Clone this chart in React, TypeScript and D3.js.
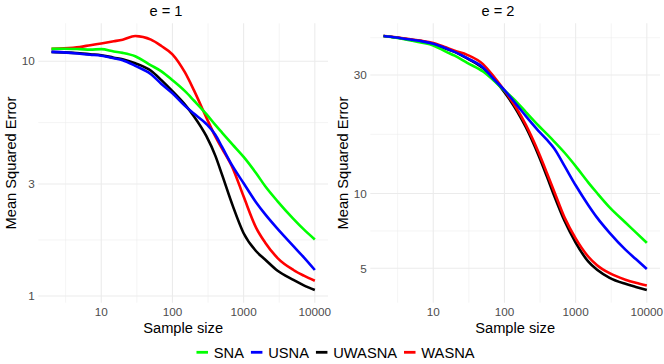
import React from 'react'
import * as d3 from 'd3'

/* whole figure is two ggplot-like panels side by side with one legend underneath */
const width = 664
const height = 364
const subWidth = 332
const margin = { top: 23.3, right: 4, bottom: 61.3, left: 38.3 }
const font = '"Liberation Sans", Arial, Helvetica, sans-serif'

/* sample sizes shared by every curve */
const sampleSizes = [2, 3, 5, 7, 10, 15, 20, 30, 50, 70, 100, 150, 200, 300, 400, 500, 700, 1000, 1500, 2000, 3000, 5000, 7000, 10000]

/* legend order and colours */
const methods = ['SNA', 'USNA', 'UWASNA', 'WASNA']
const colors = ['#00FF00', '#0000FF', '#000000', '#FF0000']
/* order the lines are painted in (last one on top) */
const drawOrder = ['UWASNA', 'WASNA', 'SNA', 'USNA']

/* e = 1 */
const snaE1 = [11.3, 11.3, 11.25, 11.2, 11.25, 11.0, 10.85, 10.5, 9.6, 9.05, 8.3, 7.45, 6.8, 5.95, 5.35, 4.95, 4.41, 3.91, 3.33, 2.94, 2.53, 2.13, 1.92, 1.74]
const usnaE1 = [10.95, 10.9, 10.75, 10.65, 10.55, 10.3, 10.1, 9.55, 8.8, 8.0, 7.3, 6.45, 5.98, 5.4, 4.86, 4.3, 3.57, 3.02, 2.5, 2.23, 1.93, 1.63, 1.46, 1.29]
const uwasnaE1 = [10.95, 10.9, 10.8, 10.7, 10.6, 10.35, 10.2, 9.8, 9.1, 8.3, 7.45, 6.53, 5.83, 4.79, 3.96, 3.27, 2.43, 1.85, 1.55, 1.43, 1.28, 1.17, 1.11, 1.06]
const wasnaE1 = [11.3, 11.35, 11.5, 11.7, 11.9, 12.15, 12.35, 12.8, 12.35, 11.6, 10.7, 8.95, 7.53, 5.75, 4.78, 4.23, 3.51, 2.65, 1.95, 1.69, 1.45, 1.29, 1.22, 1.16]

/* e = 2 */
const snaE2 = [43.1, 42.4, 41.3, 40.5, 39.5, 37.3, 35.9, 33.6, 31.0, 28.6, 26.0, 23.3, 21.3, 18.8, 17.3, 16.2, 14.6, 12.9, 11.1, 10.05, 8.8, 7.65, 6.98, 6.33]
const usnaE2 = [43.1, 42.5, 41.6, 41.0, 40.1, 38.5, 37.2, 35.1, 32.2, 29.0, 26.1, 22.7, 20.5, 17.9, 16.4, 15.2, 12.9, 10.8, 9.0, 8.0, 6.95, 5.95, 5.45, 4.97]
const uwasnaE2 = [43.1, 42.5, 41.6, 41.0, 40.1, 38.4, 37.2, 35.0, 32.0, 29.0, 25.6, 21.5, 18.5, 14.3, 11.6, 9.8, 7.75, 6.35, 5.33, 4.93, 4.58, 4.33, 4.21, 4.09]
const wasnaE2 = [43.1, 42.6, 41.7, 41.2, 40.4, 38.8, 37.6, 36.2, 33.2, 29.7, 26.0, 21.9, 18.9, 14.7, 12.0, 10.2, 8.0, 6.6, 5.58, 5.15, 4.78, 4.5, 4.37, 4.26]

/* axis breaks */
const xTicks = [10, 100, 1000, 10000]
const yTicksE1 = [1, 3, 10]
const yTicksE2 = [5, 10, 30]

/* log domain with ggplot's 5% expansion */
const logExpand = (lo: number, hi: number) => {
    const a = Math.log10(lo)
    const b = Math.log10(hi)
    const p = (b - a) * 0.05
    return [10 ** (a - p), 10 ** (b + p)]
}

/* ggplot regular_minor_breaks in log space */
const minorBreaks = (ticks: number[], domain: number[]) => {
    const b = ticks.map(Math.log10)
    const bd = b[1] - b[0]
    const lo = Math.log10(domain[0])
    const hi = Math.log10(domain[1])
    if (lo < b[0]) b.unshift(b[0] - bd)
    if (hi > b[b.length - 1]) b.push(b[b.length - 1] + bd)
    const out: number[] = []
    for (let i = 0; i < b.length - 1; i++) out.push((b[i] + b[i + 1]) / 2)
    return out.filter((v) => v >= lo && v <= hi).map((v) => 10 ** v)
}

/* text width for the legend layout */
const measure = (() => {
    const ctx = document.createElement('canvas').getContext('2d')
    return (text: string, size: number) => {
        if (!ctx) return text.length * size * 0.6
        ctx.font = `${size}px ${font}`
        return ctx.measureText(text).width
    }
})()

type PanelProps = { title: string; offsetX: number; series: number[][]; yTicks: number[] }

const Panel = ({ title, offsetX, series, yTicks }: PanelProps) => {
    const left = offsetX + margin.left
    const right = offsetX + subWidth - margin.right
    const top = margin.top
    const bottom = height - margin.bottom

    const xDomain = logExpand(d3.min(sampleSizes)!, d3.max(sampleSizes)!)
    const xScale = d3.scaleLog().domain(xDomain).range([left, right])
    const all = series.flat()
    const yDomain = logExpand(d3.min(all)!, d3.max(all)!)
    const yScale = d3.scaleLog().domain(yDomain).range([bottom, top])

    const xMinor = minorBreaks(xTicks, xDomain)
    const yMinor = minorBreaks(yTicks, yDomain)

    const line = d3
        .line<number>()
        .x((_, i) => xScale(sampleSizes[i]))
        .y((d) => yScale(d))
        .curve(d3.curveMonotoneX)

    const grid = '#EBEBEB'
    const cx = (left + right) / 2

    return (
        <g>
            {/* grid */}
            {xMinor.map((d, i) => (
                <line key={'xm' + i} x1={xScale(d)} x2={xScale(d)} y1={top} y2={bottom} stroke={grid} strokeWidth={0.55} />
            ))}
            {yMinor.map((d, i) => (
                <line key={'ym' + i} x1={left} x2={right} y1={yScale(d)} y2={yScale(d)} stroke={grid} strokeWidth={0.55} />
            ))}
            {xTicks.map((d, i) => (
                <line key={'x' + i} x1={xScale(d)} x2={xScale(d)} y1={top} y2={bottom} stroke={grid} strokeWidth={1.07} />
            ))}
            {yTicks.map((d, i) => (
                <line key={'y' + i} x1={left} x2={right} y1={yScale(d)} y2={yScale(d)} stroke={grid} strokeWidth={1.07} />
            ))}

            {/* curves */}
            {drawOrder.map((name) => {
                const k = methods.indexOf(name)
                return (
                    <path
                        key={name}
                        d={line(series[k]) || ''}
                        fill="none"
                        stroke={colors[k]}
                        strokeWidth={2.6}
                        strokeLinejoin="round"
                        strokeLinecap="butt"
                    />
                )
            })}

            {/* tick labels */}
            {xTicks.map((d, i) => (
                <text key={'xt' + i} x={xScale(d)} y={316.3} textAnchor="middle" fontSize={11.73} fill="#4D4D4D">
                    {d}
                </text>
            ))}
            {yTicks.map((d, i) => (
                <text key={'yt' + i} x={left - 3.6} y={yScale(d)} dy="0.36em" textAnchor="end" fontSize={11.73} fill="#4D4D4D">
                    {d}
                </text>
            ))}

            {/* titles */}
            <text x={offsetX + subWidth / 2} y={16} textAnchor="middle" fontSize={14.67} fill="#000">
                {title}
            </text>
            <text x={cx} y={332.5} textAnchor="middle" fontSize={14.67} fill="#000">
                Sample size
            </text>
            <text
                transform={`translate(${offsetX + 15.8},${(top + bottom) / 2}) rotate(-90)`}
                textAnchor="middle"
                fontSize={14.67}
                fill="#000"
            >
                Mean Squared Error
            </text>
        </g>
    )
}

const Legend = () => {
    const size = 14.67
    const keyW = 11.5
    const gapText = 5.8
    const gapItem = 7
    const widths = methods.map((m) => measure(m, size))
    const total = d3.sum(widths) + methods.length * (keyW + gapText) + (methods.length - 1) * gapItem
    let x = 335.5 - total / 2
    const items = methods.map((m, i) => {
        const item = { name: m, color: colors[i], x }
        x += keyW + gapText + widths[i] + gapItem
        return item
    })
    return (
        <g>
            {items.map((d) => (
                <g key={d.name}>
                    <line x1={d.x} x2={d.x + keyW} y1={352.3} y2={352.3} stroke={d.color} strokeWidth={2.8} />
                    <text x={d.x + keyW + gapText} y={357.6} fontSize={size} fill="#000">
                        {d.name}
                    </text>
                </g>
            ))}
        </g>
    )
}

export default function App() {
    return (
        <svg
            width={width}
            height={height}
            style={{ position: 'absolute', left: 0, top: 0, background: '#fff' }}
            fontFamily={font}
        >
            <rect width={width} height={height} fill="#fff" />
            <Panel title="e = 1" offsetX={0} series={[snaE1, usnaE1, uwasnaE1, wasnaE1]} yTicks={yTicksE1} />
            <Panel title="e = 2" offsetX={subWidth} series={[snaE2, usnaE2, uwasnaE2, wasnaE2]} yTicks={yTicksE2} />
            <Legend />
        </svg>
    )
}
